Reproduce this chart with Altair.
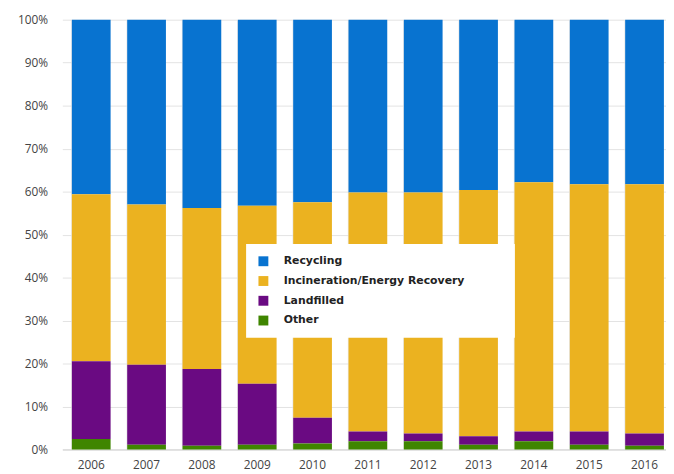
import altair as alt
import pandas as pd

years = ["2006", "2007", "2008", "2009", "2010", "2011", "2012", "2013", "2014", "2015", "2016"]
categories = ["Recycling", "Incineration/Energy Recovery", "Landfilled", "Other"]
colors = ["#0873D0", "#EBB220", "#6A0A82", "#3F8500"]

recycling = [40.6, 43.0, 43.8, 43.3, 42.5, 40.2, 40.2, 39.6, 37.8, 38.3, 38.3]
incineration = [38.9, 37.3, 37.5, 41.4, 50.1, 55.6, 56.1, 57.3, 58.0, 57.5, 58.0]
landfilled = [18.05, 18.6, 17.85, 14.2, 6.0, 2.3, 1.8, 2.0, 2.3, 3.1, 2.85]
other = [2.45, 1.1, 0.85, 1.1, 1.4, 1.9, 1.9, 1.1, 1.9, 1.1, 0.85]

series = [recycling, incineration, landfilled, other]
rows = []
for ci, (cat, vals) in enumerate(zip(categories, series)):
    for y, v in zip(years, vals):
        rows.append({"year": y, "category": cat, "value": v, "order": ci})
df = pd.DataFrame(rows)

pad_expr = "datum.label + '\u2003\u2003\u2003\u2002\u200b'"

chart = alt.Chart(df).mark_bar().encode(
    x=alt.X("year:N", sort=years, title=None,
            scale=alt.Scale(paddingInner=0.3, paddingOuter=0.105, align=0.82),
            axis=alt.Axis(labelAngle=0, grid=True, bandPosition=0, ticks=False,
                          labelFont="Open Sans", labelFontSize=12, labelColor="#444",
                          gridColor="#e3e3e3", domainColor="#d0d0d0", labelPadding=10)),
    y=alt.Y("value:Q", stack="normalize", title=None,
            scale=alt.Scale(domain=[0, 1]),
            axis=alt.Axis(format="%", values=[i / 10 for i in range(11)], ticks=False,
                          labelFont="Open Sans", labelFontSize=12, labelColor="#444",
                          gridColor="#e3e3e3", domain=False, labelPadding=15)),
    color=alt.Color("category:N", sort=categories,
                    scale=alt.Scale(domain=categories, range=colors),
                    legend=alt.Legend(title=None, orient="none", legendX=186, legendY=227,
                                      fillColor="white", padding=12, symbolType="square",
                                      symbolSize=100, symbolStrokeWidth=0,
                                      labelFont="DejaVu Sans", labelFontSize=11,
                                      labelFontWeight="bold", labelColor="#222",
                                      labelLimit=400, labelExpr=pad_expr,
                                      rowPadding=8, labelOffset=15, offset=0)),
    order=alt.Order("order:Q", sort="descending"),
).properties(
    width=611, height=435,
    autosize=alt.AutoSizeParams(type="none"),
    padding={"left": 55, "top": 9, "right": 0, "bottom": 22},
).configure_view(stroke=None)

chart.save("out.html", embed_options={"renderer": "svg", "actions": False})
